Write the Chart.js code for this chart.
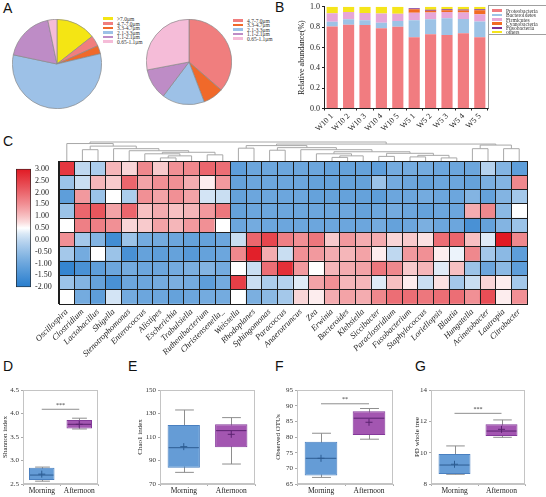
<!DOCTYPE html>
<html>
<head>
<meta charset="utf-8">
<script src="https://cdn.jsdelivr.net/npm/chart.js@4.4.0/dist/chart.umd.min.js"></script>
<style>
  html, body { margin: 0; padding: 0; background: #fff; }
  #page { position: relative; width: 546px; height: 497px; overflow: hidden; }
  canvas { position: absolute; }
  .tag { position: absolute; font: 14px/14px "Liberation Sans", Arial, sans-serif; color: #111; }
  .legend { position: absolute; font: 5.5px/4.6px "Liberation Serif", serif; color: #333; }
  .legend div { height: 4.6px; white-space: nowrap; }
  .legend i { display: inline-block; width: 10px; height: 2.6px; margin-right: 4px; vertical-align: 1px; }
  #legB { border: 1px solid #a0a0a0; padding: 3px 0 0 3px; width: 70px; height: 25px; line-height: 4.3px; }
  #legB div { height: 4.3px; }
</style>
</head>
<body>
<div id="page">
  <div class="tag" style="left:3px;top:1px">A</div>
  <div class="tag" style="left:275px;top:0px">B</div>
  <div class="tag" style="left:3px;top:134px">C</div>
  <div class="tag" style="left:3px;top:359px">D</div>
  <div class="tag" style="left:128px;top:359px">E</div>
  <div class="tag" style="left:275px;top:359px">F</div>
  <div class="tag" style="left:415px;top:359px">G</div>

  <canvas id="pie1" width="90" height="90" style="left:12px;top:19px"></canvas>
  <canvas id="pie2" width="86" height="86" style="left:146px;top:19px"></canvas>
  <div class="legend" id="legA1" style="left:103px;top:17px"></div>
  <div class="legend" id="legA2" style="left:233px;top:18.7px"></div>

  <canvas id="abund" width="195" height="135" style="left:295px;top:0px"></canvas>
  <div class="legend" id="legB" style="left:488px;top:5px"></div>

  <canvas id="cbar" width="50" height="136" style="left:10px;top:160px"></canvas>
  <canvas id="heat" width="546" height="250" style="left:0px;top:130px"></canvas>

  <canvas id="boxD" width="103" height="117" style="left:0px;top:380px"></canvas>
  <canvas id="boxE" width="125" height="117" style="left:135px;top:380px"></canvas>
  <canvas id="boxF" width="125" height="117" style="left:273px;top:380px"></canvas>
  <canvas id="boxG" width="118" height="117" style="left:412px;top:380px"></canvas>
</div>
<script>
// ---- A: particle size fractions
const sizeClasses1 = ['>7.0μm', '4.7-7.0μm', '3.3-4.7μm', '2.1-3.3μm', '1.1-2.1μm', '0.65-1.1μm'];
const sizeShare1 = [14.4, 3.9, 3.0, 57.0, 18.4, 3.3];
const sizeClasses2 = ['4.7-7.0μm', '3.3-4.7μm', '2.1-3.3μm', '1.1-2.1μm', '0.65-1.1μm'];
const sizeShare2 = [36.4, 7.8, 16.1, 11.7, 28.0];

// ---- B: relative abundance of phyla
const samples = ['W10 1', 'W10 2', 'W10 3', 'W10 4', 'W10 5', 'W5 1', 'W5 2', 'W5 3', 'W5 4', 'W5 5'];
const phyla = ['Proteobacteria', 'Bacteroidetes', 'Firmicutes', 'Cyanobacteria', 'Fusobacteria', 'others'];
const proteobacteria = [0.807, 0.823, 0.820, 0.790, 0.803, 0.700, 0.729, 0.723, 0.739, 0.700];
const bacteroidetes  = [0.045, 0.055, 0.048, 0.052, 0.058, 0.168, 0.148, 0.164, 0.142, 0.155];
const firmicutes     = [0.084, 0.071, 0.071, 0.093, 0.071, 0.074, 0.068, 0.061, 0.064, 0.071];
const cyanobacteria  = [0, 0, 0, 0, 0, 0.033, 0.016, 0.019, 0.019, 0.039];
const fusobacteria   = [0, 0, 0, 0, 0, 0.010, 0.010, 0.010, 0.010, 0.010];
const others         = [0.064, 0.051, 0.061, 0.065, 0.068, 0.000, 0.029, 0.023, 0.026, 0.025];

// ---- C: genus z-scores (rows top to bottom)
const genera = ['Oscillospira', 'Clostridium', 'Lactobacillus', 'Shigella', 'Stenotrophomonas', 'Enterococcus',
  'Alistipes', 'Escherichia', 'Trabulsiella', 'Ruthenibacterium', 'Christensenella_', 'Weissella', 'Rhodoplanes',
  'Sphingomonas', 'Paracoccus', 'Anaerotruncus', 'Zea', 'Erwinia', 'Bacteroides', 'Klebsiella', 'Siccibacter',
  'Paraclostridium', 'Fusobacterium', 'Staphylococcus', 'Loriellopsis', 'Blautia', 'Hungatella', 'Acinetobacter',
  'Lautropia', 'Citrobacter'];
const zScores = [
  [2.6, 0.0, -0.2, 1.1, 0.8, 1.6, 0.9, 1.5, 1.6, 2.0, 1.9, -1.2, -1.0, -1.0, -1.0, -1.0, -1.0, -1.1, -1.1, -1.1, -1.2, -0.9, -0.9, -0.9, -1.0, -1.0, -1.0, -0.1, -0.7, -1.2],
  [-0.4, 0.1, 1.1, 0.9, 2.0, 1.3, 1.5, 1.5, 1.2, 0.6, 1.4, -1.1, -1.0, -1.0, -1.0, -1.0, -1.1, -1.1, -1.1, -1.1, -0.4, -0.9, -1.0, -1.1, -1.0, -1.0, -1.1, -0.8, -0.7, 1.6],
  [-1.2, 1.4, -0.4, 0.5, -0.2, 1.5, 1.3, 1.5, 1.3, 0.2, 0.1, -1.1, -1.0, -1.0, -1.0, -1.0, -1.1, -1.1, -1.1, -1.1, -1.2, -1.0, -1.0, -0.9, -1.0, -1.0, -0.7, -1.1, -0.7, -0.3],
  [-0.4, 2.0, 2.2, 1.3, 2.0, 1.0, 1.2, 1.0, 1.1, 1.4, 1.8, -1.1, -1.0, -1.0, -1.0, -1.0, -1.0, -1.0, -1.0, -1.1, -1.0, -0.9, -1.0, -1.1, -1.0, -1.0, 1.2, 1.6, -0.6, 0.5],
  [0.5, 1.7, 1.7, 1.5, 0.8, 0.9, 1.3, 1.1, 1.4, 1.5, 0.5, -1.0, -0.9, -1.0, -1.0, -1.0, -1.0, -1.0, -1.0, -1.0, -0.9, -1.1, -1.0, -0.8, -1.0, -1.0, -1.5, -1.1, -0.7, -0.4],
  [1.5, -0.3, -0.7, -1.6, -0.4, -0.9, -0.9, -1.0, -1.1, -1.1, -1.0, 0.1, 2.0, 2.4, 1.7, 1.5, 1.8, 0.9, 1.4, 1.2, 1.2, 0.8, 0.9, 0.7, 1.9, 2.0, 1.0, 0.3, 3.0, 1.6],
  [-0.3, -0.9, 0.5, -0.4, -1.5, -1.1, -1.2, -1.1, -1.3, -1.1, -1.0, 1.6, 2.9, 1.2, 0.1, 1.5, 1.4, 1.2, 1.1, 1.3, 0.6, 0.0, 1.4, 1.5, 0.6, 0.4, 1.6, -0.3, -0.6, -1.2],
  [-1.8, -1.5, -1.2, -1.0, -0.9, -1.0, -1.0, -0.9, -0.8, -0.7, -0.9, 0.5, 0.1, 1.9, 2.7, 1.4, 0.5, 1.1, 1.2, 1.3, 1.8, 1.6, 0.9, 1.1, 0.3, 1.0, -0.4, -1.0, -0.6, -1.2],
  [-0.4, -0.7, -1.1, -1.5, -1.0, -1.0, -0.9, -0.8, -0.9, -1.2, -0.9, 2.5, 0.1, -0.2, -0.1, 0.3, 1.3, 1.5, 1.1, 1.1, 0.3, 1.0, 0.6, 0.1, 0.7, -0.3, 0.1, 0.8, 0.6, -0.3],
  [0.5, -0.9, -1.2, 0.2, -0.9, -1.0, -1.0, -1.1, -1.0, -0.9, -0.9, 0.5, -0.8, -0.6, -0.3, 0.8, 0.6, 1.2, 1.3, 1.2, 1.6, 1.9, 1.9, 1.8, 1.9, 1.9, 1.5, 2.3, 0.6, 1.5]
];
const zMin = -2, zMax = 3, zWhite = 0.5, zStep = 0.5;
// dendrogram merges: [left, right, height]; ids >= genera.length are earlier merges
const dendroMerges = [
  [1, 2, 11], [6, 7, 3], [31, 8, 5], [5, 32, 7], [9, 10, 6], [33, 34, 8.5], [4, 35, 10], [3, 36, 12],
  [30, 37, 14.5], [0, 38, 17], [11, 12, 12.5], [13, 14, 10.5], [17, 18, 3.5], [42, 19, 5], [16, 43, 7],
  [20, 21, 4.5], [22, 23, 4], [24, 25, 3], [46, 47, 5.5], [45, 48, 7.5], [44, 49, 9], [15, 50, 11],
  [41, 51, 13], [40, 52, 15], [26, 27, 12], [28, 29, 12], [54, 55, 15.5], [53, 56, 16.5], [39, 57, 18.5]
];

// ---- D-G: alpha diversity, Morning vs Afternoon
const groups = ['Morning', 'Afternoon'];
const shannonBox = [[2.585, 2.848], [3.68, 3.86]];
const shannonWhisker = [[2.56, 2.86], [3.67, 3.90]];
const shannonMedian = [2.69, 3.77];
const shannonMean = [2.71, 3.77];
const chaoBox = [[83.9, 120.2], [101.2, 120.8]];
const chaoWhisker = [[79.9, 133], [87, 126.5]];
const chaoMedian = [100.9, 115.4];
const chaoMean = [101.8, 112.3];
const otuBox = [[67.7, 78.5], [80.6, 88.2]];
const otuWhisker = [[67.1, 81.2], [79.3, 89.1]];
const otuMedian = [73.2, 86.0];
const otuMean = [73.2, 84.7];
const pdBox = [[8.64, 9.91], [11.06, 11.81]];
const pdWhisker = [[8.62, 10.43], [10.98, 12.09]];
const pdMedian = [9.21, 11.38];
const pdMean = [9.26, 11.49];

// ---- styles
Chart.defaults.font.family = '"Liberation Serif", serif';
Chart.defaults.font.size = 7;
Chart.defaults.color = '#222';
const sizeColors = {'>7.0μm': '#f4e514', '4.7-7.0μm': '#f07e7e', '3.3-4.7μm': '#f0692a',
  '2.1-3.3μm': '#9dc1e7', '1.1-2.1μm': '#be8cc6', '0.65-1.1μm': '#f5bcd8'};
const phylaColors = ['#f17c80', '#9dc3e6', '#e7a6d7', '#f26b21', '#7b3294', '#f5e51b'];
const boxFill = ['#659cd6', '#a356b1'];
const boxEdge = ['#4a80c0', '#84399a'];
const boxDark = ['#2d5d93', '#5b2270'];
const greyLine = '#8e8e8e';
const noPlug = {legend: {display: false}, tooltip: {enabled: false}};

function makeLegend(el, names, colors) {
  el.innerHTML = names.map((n, i) => `<div><i style="background:${colors[i]}"></i>${n}</div>`).join('');
}
makeLegend(document.getElementById('legA1'), sizeClasses1, sizeClasses1.map(c => sizeColors[c]));
makeLegend(document.getElementById('legA2'), sizeClasses2, sizeClasses2.map(c => sizeColors[c]));
makeLegend(document.getElementById('legB'), phyla, phylaColors);

function pie(id, classes, share) {
  new Chart(document.getElementById(id), {
    type: 'pie',
    data: {labels: classes, datasets: [{data: share, backgroundColor: classes.map(c => sizeColors[c]),
      borderColor: '#8a8a8a', borderWidth: 0.7}]},
    options: {responsive: false, animation: false, layout: {padding: 0}, plugins: noPlug}
  });
}
pie('pie1', sizeClasses1, sizeShare1);
pie('pie2', sizeClasses2, sizeShare2);

// ---- B
const rightFrame = {
  id: 'rightFrame',
  afterDraw(chart) {
    const {ctx, chartArea: a} = chart;
    ctx.save(); ctx.strokeStyle = '#9a9a9a'; ctx.lineWidth = 1;
    ctx.beginPath(); ctx.moveTo(a.right + 0.5, a.top); ctx.lineTo(a.right + 0.5, a.bottom); ctx.stroke();
    ctx.restore();
  }
};
new Chart(document.getElementById('abund'), {
  type: 'bar',
  data: {
    labels: samples,
    datasets: [proteobacteria, bacteroidetes, firmicutes, cyanobacteria, fusobacteria, others].map((d, i) => ({
      label: phyla[i], data: d, backgroundColor: phylaColors[i], borderWidth: 0,
      barPercentage: 0.68, categoryPercentage: 1
    }))
  },
  options: {
    responsive: false, animation: false,
    layout: {padding: {top: 6, right: 2, left: 0, bottom: 0}},
    plugins: noPlug,
    scales: {
      x: {stacked: true, grid: {drawOnChartArea: false, tickLength: 2, color: '#222'}, border: {color: '#222'},
        ticks: {minRotation: 45, maxRotation: 45, autoSkip: false, padding: 1, font: {size: 8}},
        afterFit: s => { s.height = 26.5; }},
      y: {stacked: true, min: 0, max: 1,
        grid: {drawOnChartArea: false, tickLength: 2, color: '#222'}, border: {color: '#222'},
        ticks: {stepSize: 0.2, padding: 2, font: {size: 8}, callback: v => v.toFixed(1)},
        title: {display: true, text: 'Relative abundance(%)', font: {size: 8}, padding: {top: 2, bottom: 0}},
        afterFit: s => { s.width = 29; }}
    }
  },
  plugins: [rightFrame]
});

// ---- C
function heatColor(v) {
  const lo = [40, 125, 205], hi = [225, 25, 35];
  let t, end;
  if (v >= zWhite) { t = Math.pow(Math.min((v - zWhite) / (zMax - zWhite), 1), 0.8); end = hi; }
  else { t = Math.pow(Math.min((zWhite - v) / (zWhite - zMin), 1), 0.75); end = lo; }
  const c = end.map(e => Math.round(255 + (e - 255) * t));
  return `rgb(${c.join(',')})`;
}

new Chart(document.getElementById('cbar'), {
  type: 'bar',
  data: {labels: [''], datasets: [{
    data: [[zMin, zMax]],
    backgroundColor: ctx => {
      const {chart} = ctx;
      const y = chart.scales.y;
      if (!y || !chart.chartArea) return '#fff';
      const y0 = y.getPixelForValue(zMin), y1 = y.getPixelForValue(zMax);
      if (!isFinite(y0) || !isFinite(y1)) return '#fff';
      const g = chart.ctx.createLinearGradient(0, y0, 0, y1);
      for (let k = 0; k <= 20; k++) g.addColorStop(k / 20, heatColor(zMin + (zMax - zMin) * k / 20));
      return g;
    },
    borderColor: '#222', borderWidth: 1, borderSkipped: false, barPercentage: 1, categoryPercentage: 1
  }]},
  options: {
    responsive: false, animation: false,
    layout: {padding: {left: 6, top: 6, bottom: 6, right: 0}},
    plugins: noPlug,
    scales: {
      x: {display: false},
      y: {position: 'right', min: zMin, max: zMax, grid: {display: false, drawTicks: false}, border: {display: false},
        ticks: {stepSize: zStep, autoSkip: false, padding: 4, font: {size: 8}, callback: v => v.toFixed(2)},
        afterFit: s => { s.width = 29; }}
    }
  }
});

const dendroPlugin = {
  id: 'dendro',
  afterDraw(chart) {
    const {ctx, chartArea: a, scales: {x}} = chart;
    const n = genera.length;
    const pos = genera.map((g, i) => x.getPixelForValue(i));
    const hgt = genera.map(() => 0);
    const maxH = Math.max(...dendroMerges.map(m => m[2]));
    const k = (a.top - 12) / maxH;
    const py = h => a.top - h * k;
    ctx.save(); ctx.strokeStyle = '#a8a8a8'; ctx.lineWidth = 1;
    dendroMerges.forEach(([l, r, h], j) => {
      ctx.beginPath();
      ctx.moveTo(pos[l], py(hgt[l])); ctx.lineTo(pos[l], py(h));
      ctx.lineTo(pos[r], py(h)); ctx.lineTo(pos[r], py(hgt[r]));
      ctx.stroke();
      pos[n + j] = (pos[l] + pos[r]) / 2; hgt[n + j] = h;
    });
    ctx.restore();
  }
};
new Chart(document.getElementById('heat'), {
  type: 'bar',
  data: {
    labels: genera,
    datasets: zScores.slice().reverse().map(row => ({
      data: row.map(() => 1), backgroundColor: row.map(heatColor), borderWidth: 0,
      barPercentage: 1, categoryPercentage: 1
    }))
  },
  options: {
    responsive: false, animation: false,
    layout: {padding: {left: 59, right: 19, top: 31, bottom: 0}},
    plugins: noPlug,
    scales: {
      x: {stacked: true, grid: {color: '#1e1e1e', drawTicks: false, z: 1}, border: {color: '#1e1e1e', z: 1},
        ticks: {minRotation: 45, maxRotation: 45, padding: 3, autoSkip: false, color: '#222',
          font: {size: 8.5, style: 'italic'}},
        afterFit: s => { s.height = 76; }},
      y: {stacked: true, min: 0, max: zScores.length, grid: {color: '#1e1e1e', drawTicks: false, z: 1},
        border: {color: '#1e1e1e', z: 1}, ticks: {display: false, stepSize: 1},
        afterFit: s => { s.width = 0; }}
    }
  },
  plugins: [dendroPlugin]
});

// ---- D-G
function boxChart(id, box, whisker, median, mean, yMin, yMax, step, digits, title, axisW, sigY, sigMark) {
  const parts = {
    id: 'boxparts',
    beforeDatasetsDraw(chart) {
      const {ctx, scales: {x, y}} = chart;
      const bars = chart.getDatasetMeta(2).data;
      ctx.save(); ctx.strokeStyle = greyLine; ctx.lineWidth = 1;
      whisker.forEach(([lo, hi], i) => {
        const cx = Math.round(x.getPixelForValue(i)) + 0.5, half = bars[i].width * 0.29;
        ctx.beginPath();
        ctx.moveTo(cx, y.getPixelForValue(lo)); ctx.lineTo(cx, y.getPixelForValue(hi));
        ctx.moveTo(cx - half, y.getPixelForValue(lo)); ctx.lineTo(cx + half, y.getPixelForValue(lo));
        ctx.moveTo(cx - half, y.getPixelForValue(hi)); ctx.lineTo(cx + half, y.getPixelForValue(hi));
        ctx.stroke();
      });
      ctx.restore();
    },
    afterDatasetsDraw(chart) {
      const {ctx, scales: {x, y}} = chart;
      const bars = chart.getDatasetMeta(2).data;
      ctx.save(); ctx.lineWidth = 1;
      median.forEach((m, i) => {
        const b = bars[i], yy = y.getPixelForValue(m);
        ctx.strokeStyle = boxDark[i];
        ctx.beginPath(); ctx.moveTo(b.x - b.width / 2 + 1, yy); ctx.lineTo(b.x + b.width / 2 - 1, yy); ctx.stroke();
      });
      if (sigMark) {
        ctx.fillStyle = '#333'; ctx.font = '6px "Liberation Serif"'; ctx.textAlign = 'center'; ctx.textBaseline = 'bottom';
        ctx.fillText(sigMark, (x.getPixelForValue(0) + x.getPixelForValue(1)) / 2, y.getPixelForValue(sigY) - 1);
      }
      ctx.restore();
    },
    afterDraw(chart) {
      const {ctx, chartArea: a} = chart;
      ctx.save(); ctx.strokeStyle = '#c4c4c4'; ctx.lineWidth = 1;
      ctx.strokeRect(Math.round(a.left) + 0.5, Math.round(a.top) + 0.5, Math.round(a.width) - 1, Math.round(a.height) - 1);
      ctx.restore();
    }
  };
  new Chart(document.getElementById(id), {
    type: 'bar',
    data: {
      labels: groups,
      datasets: [
        {type: 'line', data: sigMark ? [sigY, sigY] : [], borderColor: greyLine, borderWidth: 1, pointRadius: 0, order: 1},
        {type: 'line', data: mean, showLine: false, pointStyle: 'cross', pointRadius: 3.5, pointBorderWidth: 1,
          pointBorderColor: boxDark, order: 0},
        {data: box, backgroundColor: boxFill, borderColor: boxEdge, borderWidth: 1, borderSkipped: false,
          barPercentage: 0.68, categoryPercentage: 1, order: 2}
      ]
    },
    options: {
      responsive: false, animation: false,
      layout: {padding: {top: 10, right: 3, left: 0, bottom: 0}},
      plugins: noPlug,
      scales: {
        x: {grid: {drawOnChartArea: false, tickLength: 2, color: '#aaa'}, border: {color: '#c4c4c4'},
          ticks: {padding: 1, font: {size: 7.5}, color: '#222'},
          afterFit: s => { s.height = 13; }},
        y: {min: yMin, max: yMax, grid: {drawOnChartArea: false, tickLength: 2, color: '#aaa'}, border: {color: '#c4c4c4'},
          ticks: {stepSize: step, padding: 2, font: {size: 7}, color: '#333', callback: v => v.toFixed(digits)},
          title: {display: true, text: title, font: {size: 7}, padding: {top: 0.8, bottom: 0}},
          afterFit: s => { s.width = axisW; }}
      }
    },
    plugins: [parts]
  });
}
boxChart('boxD', shannonBox, shannonWhisker, shannonMedian, shannonMean, 2.5, 4.5, 0.5, 1, 'Shannon index', 23, 4.09, '***');
boxChart('boxE', chaoBox, chaoWhisker, chaoMedian, chaoMean, 70, 150, 20, 0, 'Chao1 index', 25, null, '');
boxChart('boxF', otuBox, otuWhisker, otuMedian, otuMean, 65, 95, 5, 0, 'Observed OTUs', 24, 90.6, '**');
boxChart('boxG', pdBox, pdWhisker, pdMedian, pdMean, 8, 14, 2, 0, 'PD whole tree', 19, 12.51, '***');
</script>
</body>
</html>
